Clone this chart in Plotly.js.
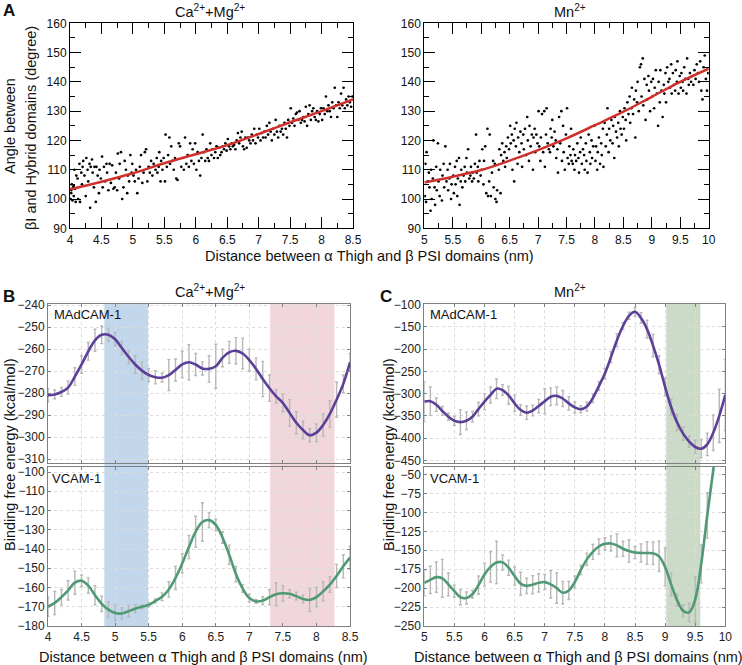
<!DOCTYPE html>
<html><head><meta charset="utf-8">
<script src="https://cdn.plot.ly/plotly-3.0.1.min.js"></script>
<style>html,body{margin:0;padding:0;background:#fff}#chart{width:742px;height:665px}</style>
</head><body><div id="chart"></div>
<script>
// ---------- Panel A data ----------
const caMgPoints = [[4.01,100],[4.02,103],[4.03,105],[4.04,99.5],[4.05,104],[4.06,101],[4.07,110],[4.08,103.5],[4.09,99],[4.10,108],[4.02,102],[4.06,104.5],
[4.12,107],[4.13,100],[4.15,112],[4.16,99],[4.18,109],[4.19,105],[4.20,111],
[4.21,113],[4.23,108],[4.25,101],[4.26,114],[4.28,110],[4.29,106],
[4.31,112],[4.32,97],[4.33,111],[4.35,113.5],[4.36,109],[4.38,104],[4.39,111],
[4.41,99],[4.42,111],[4.44,108],[4.46,102],[4.47,110],[4.49,107],
[4.51,114.5],[4.52,104],[4.54,111],[4.56,106],[4.58,112],[4.59,109],
[4.61,103],[4.63,112],[4.65,105.5],[4.67,111.5],[4.69,103.5],
[4.71,104],[4.73,109],[4.75,103],[4.76,115.5],[4.78,107],[4.79,112],
[4.81,116],[4.83,100],[4.85,104],[4.87,113],[4.89,110],
[4.91,102],[4.92,108],[4.94,106],[4.96,115],[4.98,109],[4.99,112],
[5.01,108],[5.03,106],[5.05,110],[5.07,102],[5.09,107],
[5.11,111],[5.13,115],[5.15,105.5],[5.17,109],[5.19,116],
[5.21,117],[5.23,106],[5.25,111],[5.27,109],[5.29,113],
[5.31,108],[5.33,112],[5.36,110],[5.38,114],[5.39,109],
[5.41,111],[5.42,116],[5.44,106],[5.45,113],[5.47,110],[5.49,114],
[5.51,106],[5.52,122],[5.54,111],[5.56,115],[5.58,121],[5.59,112],
[5.61,118],[5.63,113],[5.65,110],[5.67,114],[5.69,107],
[5.71,106.5],[5.73,119],[5.75,118],[5.77,111],[5.79,114],
[5.81,110],[5.83,121],[5.85,112],[5.87,115],[5.89,111],
[5.91,119],[5.93,113],[5.95,117],[5.97,112],[5.99,119],
[6.01,110],[6.03,116],[6.05,113],[6.07,108],[6.09,114],
[6.11,122],[6.13,116],[6.15,113],[6.17,117],[6.19,114],
[6.21,113],[6.23,119],[6.25,115],[6.27,117],[6.29,114],
[6.31,116],[6.33,118],[6.35,114],[6.37,117.5],[6.39,115],
[6.41,116],[6.43,118],[6.45,117],[6.47,119],[6.49,116.5],
[6.51,120.5],[6.53,118],[6.55,117],[6.57,119],[6.59,118],
[6.61,118.5],[6.63,117],[6.65,120],[6.67,122.5],[6.69,119],
[6.71,121],[6.73,123],[6.75,118],[6.77,117],[6.79,121],
[6.81,117.5],[6.83,121],[6.85,120],[6.87,119],[6.89,122],
[6.91,120],[6.93,124],[6.95,119],[6.97,122],[6.99,121],
[7.01,124],[7.03,120],[7.05,122.5],[7.07,121],[7.09,123],
[7.11,121],[7.13,125],[7.15,122],[7.17,126],[7.19,123],
[7.21,120],[7.23,124],[7.25,122],[7.27,127],[7.29,123],
[7.31,121],[7.33,125],[7.35,123],[7.37,124],[7.39,122],
[7.41,126],[7.43,124],[7.45,121],[7.47,127],[7.49,125],
[7.51,131],[7.53,126],[7.55,127.5],[7.57,125],[7.59,129],
[7.61,129.5],[7.63,127],[7.65,130],[7.67,126],[7.69,127],
[7.71,128],[7.73,126.5],[7.75,131.5],[7.77,125],[7.79,129],
[7.81,132],[7.83,127],[7.85,130],[7.87,131],[7.89,128],
[7.91,127],[7.93,130],[7.95,126.5],[7.97,129],[7.99,131],
[8.01,127],[8.03,131],[8.05,129],[8.07,135],[8.09,130],
[8.11,132],[8.13,130],[8.15,128],[8.17,133],[8.19,131],
[8.21,138],[8.23,132],[8.25,128],[8.27,133],[8.29,131],
[8.31,136],[8.33,132],[8.35,138],[8.37,131],[8.39,134],
[8.41,132],[8.43,135],[8.45,133],[8.47,131.5],[8.49,135]];

const mnPoints = [[5.01,101],[5.02,112],[5.03,99],[5.04,116],[5.06,106],[5.08,109],[5.09,104],
[5.11,96],[5.12,110],[5.13,100],[5.15,107],[5.16,120],[5.18,104],[5.19,98],
[5.21,111],[5.22,103],[5.24,119],[5.25,106],[5.27,101],[5.28,110],
[5.31,99.5],[5.32,108],[5.34,112],[5.35,104],[5.37,118],[5.39,106],
[5.41,110],[5.42,103],[5.44,107],[5.45,112],[5.47,100],[5.48,105],
[5.51,108],[5.52,102],[5.54,111],[5.55,105],[5.57,113],[5.58,101],[5.59,107],
[5.61,114],[5.62,98],[5.64,106],[5.65,110],[5.67,104],[5.69,108],
[5.71,111],[5.72,106],[5.74,114],[5.75,109],[5.77,117],[5.79,107],
[5.81,108],[5.82,111],[5.84,106],[5.85,109],[5.87,107],[5.89,112],
[5.91,122],[5.92,109],[5.94,111],[5.95,106],[5.97,113],[5.99,108],
[6.01,110],[6.02,117],[6.04,105],[6.05,113],[6.07,118],[6.09,102],
[6.11,124],[6.12,101],[6.14,106],[6.15,122],[6.17,101],[6.19,109],
[6.21,113],[6.22,104],[6.24,112],[6.25,100],[6.27,99],[6.28,103],
[6.31,110],[6.32,117],[6.34,102],[6.35,115],[6.37,119],[6.39,113],
[6.41,116],[6.42,111],[6.44,118],[6.45,114],[6.47,121],[6.49,117],
[6.51,125],[6.52,119],[6.54,122],[6.55,110],[6.57,120],[6.58,106],[6.59,124],
[6.61,118],[6.62,126],[6.64,112],[6.65,121],[6.67,116],[6.69,123],
[6.71,119],[6.72,111],[6.74,122],[6.75,117],[6.77,124],[6.79,115],
[6.81,128],[6.82,120],[6.84,113],[6.85,125],[6.87,118],[6.89,122],
[6.91,110],[6.92,121],[6.94,124],[6.95,116],[6.97,122],[6.99,119],
[7.01,130],[7.02,118],[7.04,113],[7.05,121],[7.07,129],[7.09,116],
[7.11,130],[7.12,111],[7.14,122],[7.15,131],[7.17,119],[7.19,117],
[7.21,116],[7.22,124],[7.24,121],[7.25,127],[7.27,118],[7.29,123],
[7.31,120],[7.32,114],[7.34,117],[7.35,109],[7.37,128],[7.39,119],
[7.41,130],[7.42,113],[7.44,125],[7.45,116],[7.47,110],[7.49,122],
[7.51,131],[7.52,114],[7.54,112],[7.55,118],[7.57,115],[7.58,124],[7.59,113],
[7.61,112],[7.62,117],[7.64,110],[7.65,115],[7.67,113],[7.69,119],
[7.71,114],[7.72,109],[7.74,116],[7.75,121],[7.77,112],[7.79,117],
[7.81,115],[7.82,110],[7.84,119],[7.85,113],[7.87,109],[7.89,122],
[7.91,116],[7.92,112],[7.94,120],[7.95,114],[7.97,118],[7.99,125],
[8.01,113],[8.02,118],[8.04,110],[8.05,116],[8.07,121],[8.09,112],
[8.11,119],[8.12,115],[8.14,124],[8.15,111],[8.17,126],[8.19,118],
[8.21,122],[8.22,131],[8.24,116],[8.25,124],[8.27,120],[8.29,127],
[8.31,119],[8.32,125],[8.34,114],[8.35,128],[8.37,123],[8.39,121],
[8.41,126],[8.42,118],[8.44,130],[8.45,124],[8.47,122],[8.49,128],
[8.51,124],[8.52,131],[8.54,127],[8.55,120],[8.57,133],[8.59,129],
[8.61,135],[8.62,126],[8.64,131],[8.65,138],[8.67,129],[8.69,134],
[8.71,121],[8.72,137],[8.74,133],[8.75,140],[8.77,130],[8.79,145],
[8.81,146],[8.82,135],[8.84,148],[8.85,132],[8.87,141],[8.89,127],
[8.91,139],[8.92,134],[8.94,142],[8.95,137],[8.97,130],[8.99,140],
[9.01,135],[9.02,141],[9.04,131],[9.05,138],[9.07,144],[9.09,136],
[9.11,125],[9.12,140],[9.14,133],[9.15,144],[9.17,137],[9.19,128],
[9.21,139],[9.22,136],[9.24,143],[9.25,133],[9.27,145],[9.29,140],
[9.31,141],[9.32,138],[9.34,146],[9.35,136],[9.37,143],[9.39,139],
[9.41,137],[9.42,144],[9.44,140],[9.45,147],[9.47,136],[9.49,142],
[9.51,138],[9.52,143],[9.54,140],[9.55,137],[9.57,145],[9.59,141],
[9.61,136],[9.62,148],[9.64,141],[9.65,139],[9.67,143],[9.69,140],
[9.71,142],[9.73,139],[9.75,144],[9.77,141],[9.79,146],
[9.81,143],[9.83,140],[9.85,147],[9.87,137],[9.89,134],
[9.91,145],[9.93,149],[9.95,141],[9.97,137],[9.99,143]];

const caMgFitX = [4,4.5,5,5.5,6,6.5,7,7.5,8,8.5];
const caMgFitY = [103.3,105.9,108.8,112.2,115.3,118.4,122.2,126.2,130.0,134.0];
const mnFitX = [5,5.5,6,6.5,7,7.5,8,8.5,9,9.5,10];
const mnFitY = [105.6,107.6,109.9,113.1,116.7,120.7,125.2,129.8,134.9,140.0,144.5];

// ---------- Panel B data (Ca2+ + Mg2+) ----------
const distB = [4.0,4.1,4.2,4.3,4.4,4.5,4.6,4.7,4.8,4.9,5.0,5.1,5.2,5.3,5.4,5.5,5.6,5.7,5.8,5.9,6.0,6.1,6.2,6.3,6.4,6.5,6.6,6.7,6.8,6.9,7.0,7.1,7.2,7.3,7.4,7.5,7.6,7.7,7.8,7.9,8.0,8.1,8.2,8.3,8.4,8.5];
const madcamB = [-281,-280.6,-279.5,-277.5,-272.5,-267,-261,-256,-253.5,-253.5,-255.5,-259.5,-263.5,-267,-269.8,-271.8,-272.8,-273,-271.8,-269.5,-267,-266,-267,-268.8,-269,-267.8,-264,-261.5,-260.8,-262,-265,-269,-273.6,-277.8,-281.5,-284.5,-289,-293.5,-296.8,-299.2,-298,-294.5,-289.5,-283,-275.8,-266];
const madcamBErr = [3,2,2,3,4,4,4,5,4,3,3,3,3,4,4,3,3,2,7,5,6,8,5,3,6,10,4,5,6,7,5,5,8,6,3,4,6,5,4,3,4,5,6,8,4,4];
const vcamB = [-170,-168,-165,-161.5,-157.5,-156.5,-159,-164,-168.5,-171.5,-173.2,-173.5,-172.3,-171,-170,-169,-167,-164.8,-161,-155,-147.5,-139,-131,-126,-125,-127.5,-134,-143,-153,-160.5,-165.5,-167.2,-166.8,-165,-163.5,-163,-163.3,-164.5,-166,-166.5,-165,-162,-158.5,-154,-149,-144.5];
const vcamBErr = [5,6,4,5,6,3,4,5,4,4,4,3,3,2,1,1,1,2,4,6,5,6,8,10,4,3,3,5,4,2,2,1,2,4,6,4,2,2,2,6,5,5,4,6,6,6];
const bandsB = [[4.84,5.49,'rgba(170,199,228,0.72)'],[7.31,8.27,'rgba(236,200,207,0.72)']];

// ---------- Panel C data (Mn2+) ----------
const distC = [5.0,5.1,5.2,5.3,5.4,5.5,5.6,5.7,5.8,5.9,6.0,6.1,6.2,6.3,6.4,6.5,6.6,6.7,6.8,6.9,7.0,7.1,7.2,7.3,7.4,7.5,7.6,7.7,7.8,7.9,8.0,8.1,8.2,8.3,8.4,8.5,8.6,8.7,8.8,8.9,9.0,9.1,9.2,9.3,9.4,9.5,9.6,9.7,9.8,9.9,10.0];
const madcamC = [-318,-317,-325,-339,-352,-361,-364,-361,-352,-335,-318,-303,-289,-292,-304,-322,-337,-343,-338,-328,-317,-307,-305,-311,-322,-331,-335,-329,-310,-283,-255,-218,-180,-148,-125,-116,-130,-155,-192,-235,-285,-330,-365,-390,-408,-420,-424,-414,-388,-350,-303];
const madcamCErr = [45,32,15,10,8,10,28,20,12,15,18,18,22,12,20,18,12,15,12,15,28,20,20,18,15,12,8,10,10,10,12,12,15,8,8,10,12,20,25,20,20,18,18,15,12,15,20,25,40,60,80];
const vcamC = [-193,-189,-185.5,-187,-195,-204,-212,-213,-208,-196,-182,-172,-166,-166,-173,-184,-194,-197,-195.5,-193,-192,-195,-200,-206,-203,-192,-176,-162,-152,-145,-141.5,-141,-143.5,-148,-151,-153,-153.5,-153.5,-154,-158,-172,-195,-216,-230,-232,-215,-168,-104,-44,18,80];
const vcamCErr = [17,18,20,25,15,8,10,8,5,12,15,20,28,10,10,12,15,10,12,12,10,18,20,15,12,8,6,8,10,10,8,10,15,10,15,8,12,15,15,20,25,15,8,8,12,30,25,30,0,0,0];
const bandsC = [[9.02,9.585,'rgba(190,208,184,0.78)']];

// ---------- styling ----------
const FONT = 'Liberation Sans, Arial, Helvetica, sans-serif';
const purple = '#5b3f98', green = '#4f9a74', errGray = '#b8b8b8';

const traces = [];
traces.push({x: caMgPoints.map(p=>p[0]), y: caMgPoints.map(p=>p[1]), xaxis:'x', yaxis:'y', mode:'markers', marker:{color:'#000', size:2.7}, hoverinfo:'skip'});
traces.push({x: caMgFitX, y: caMgFitY, xaxis:'x', yaxis:'y', mode:'lines', line:{color:'#d0302c', width:2.5, shape:'spline'}});
traces.push({x: mnPoints.map(p=>p[0]), y: mnPoints.map(p=>p[1]), xaxis:'x2', yaxis:'y2', mode:'markers', marker:{color:'#000', size:2.7}, hoverinfo:'skip'});
traces.push({x: mnFitX, y: mnFitY, xaxis:'x2', yaxis:'y2', mode:'lines', line:{color:'#d0302c', width:2.5, shape:'spline'}});

function energyTraces(xs, ys, errs, xa, ya, col) {
  traces.push({x: xs, y: ys, xaxis: xa, yaxis: ya, mode:'markers', marker:{size:1, color:'rgba(0,0,0,0)'},
    error_y:{type:'data', array: errs, visible:true, color: errGray, thickness:1.4, width:1.5}});
  traces.push({x: xs, y: ys, xaxis: xa, yaxis: ya, mode:'lines', line:{color: col, width:2.6, shape:'spline', smoothing:1}});
}
energyTraces(distB, madcamB, madcamBErr, 'x3', 'y3', purple);
energyTraces(distB, vcamB, vcamBErr, 'x4', 'y4', green);
energyTraces(distC, madcamC, madcamCErr, 'x5', 'y5', purple);
energyTraces(distC, vcamC, vcamCErr, 'x6', 'y6', green);

const W = 742, H = 665;
const px = v => v / W, py = v => 1 - v / H;

function topAxisX(range, dom, anchor) {
  return {domain: dom, anchor: anchor, range: range, dtick: 0.5, tick0: 0, ticks:'inside', ticklen:11, tickwidth:1, tickcolor:'#000',
    showline:true, linecolor:'#000', linewidth:1, mirror:'ticks', showgrid:false, zeroline:false,
    minor:{ticks:'inside', ticklen:5, dtick:0.25, tick0:0, tickcolor:'#000', showgrid:false},
    tickfont:{size:12, color:'#111', family:FONT}};
}
function topAxisY(dom, anchor) {
  return {domain: dom, anchor: anchor, range:[90,160], dtick:10, ticks:'inside', ticklen:11, tickwidth:1, tickcolor:'#000',
    showline:true, linecolor:'#000', linewidth:1, mirror:'ticks', showgrid:false, zeroline:false,
    minor:{ticks:'inside', ticklen:5, dtick:5, tickcolor:'#000', showgrid:false},
    tickfont:{size:12, color:'#111', family:FONT}};
}
function botAxis(opts) {
  return Object.assign({ticks:'inside', ticklen:3, tickcolor:'#808080', showline:true, linecolor:'#808080', linewidth:1, mirror:'ticks',
    showgrid:true, gridcolor:'#dcdcdc', griddash:'dot', gridwidth:1, zeroline:false, tickfont:{size:12, color:'#222', family:FONT}}, opts);
}

const domTopY = [py(228.3), py(23.3)];
const domB = [px(48), px(350)], domC = [px(424.3), px(725.3)];
const domUpper = [py(463), py(304)], domLower = [py(626), py(467)];

const shapes = [];
bandsB.forEach(b => shapes.push({type:'rect', xref:'x3', yref:'paper', x0:b[0], x1:b[1], y0:domLower[0], y1:domUpper[1], fillcolor:b[2], line:{width:0}, layer:'below'}));
bandsC.forEach(b => shapes.push({type:'rect', xref:'x5', yref:'paper', x0:b[0], x1:b[1], y0:domLower[0], y1:domUpper[1], fillcolor:b[2], line:{width:0}, layer:'below'}));

function ann(text, x, y, size, extra) {
  return Object.assign({text: text, xref:'paper', yref:'paper', x: px(x), y: py(y), showarrow:false, xanchor:'center', yanchor:'middle',
    font:{size: size, color:'#111', family: FONT}}, extra || {});
}
const xTitle = 'Distance between α Thigh and β PSI domains (nm)';
const annotations = [
  ann('<b>A</b>', 1, 11, 17, {xanchor:'left'}),
  ann('<b>B</b>', 1, 296, 17, {xanchor:'left'}),
  ann('<b>C</b>', 378, 296, 17, {xanchor:'left'}),
  ann('Ca<sup>2+</sup>+Mg<sup>2+</sup>', 210, 11, 14.5),
  ann('Mn<sup>2+</sup>', 570, 11, 14.5),
  ann('Ca<sup>2+</sup>+Mg<sup>2+</sup>', 210, 291, 14.5),
  ann('Mn<sup>2+</sup>', 570, 291, 14.5),
  ann('Angle between', 10, 126, 14.5, {textangle:-90}),
  ann('βI and Hybrid domains (degree)', 31, 128, 14.5, {textangle:-90}),
  ann(xTitle, 369, 256, 14.5),
  ann('Binding free energy (kcal/mol)', 10, 455, 14.5, {textangle:-90}),
  ann('Binding free energy (kcal/mol)', 389, 455, 14.5, {textangle:-90}),
  ann(xTitle, 203, 657, 14.5),
  ann(xTitle, 578, 657, 14.5),
  ann('MAdCAM-1', 52, 315, 13, {xanchor:'left'}),
  ann('VCAM-1', 50, 478, 13, {xanchor:'left'}),
  ann('MAdCAM-1', 428, 315, 13, {xanchor:'left'}),
  ann('VCAM-1', 428, 478, 13, {xanchor:'left'})
];

const layout = {
  width: W, height: H, margin:{l:0, r:0, t:0, b:0}, showlegend:false,
  paper_bgcolor:'#fff', plot_bgcolor:'rgba(0,0,0,0)', font:{family: FONT, color:'#111'},
  xaxis: topAxisX([4,8.5], [px(70), px(353)], 'y'),
  yaxis: topAxisY(domTopY, 'x'),
  xaxis2: topAxisX([5,10], [px(424.3), px(708.7)], 'y2'),
  yaxis2: topAxisY(domTopY, 'x2'),
  xaxis3: botAxis({domain: domB, anchor:'y3', range:[4,8.5], dtick:0.5, tick0:0, showticklabels:false}),
  yaxis3: botAxis({domain: domUpper, anchor:'x3', range:[-311.8,-239.5], dtick:10}),
  xaxis4: botAxis({domain: domB, anchor:'y4', range:[4,8.5], dtick:0.5, tick0:0}),
  yaxis4: botAxis({domain: domLower, anchor:'x4', range:[-180,-97.4], dtick:10}),
  xaxis5: botAxis({domain: domC, anchor:'y5', range:[5,10], dtick:0.5, tick0:0, showticklabels:false}),
  yaxis5: botAxis({domain: domUpper, anchor:'x5', range:[-456,-98.5], dtick:50}),
  xaxis6: botAxis({domain: domC, anchor:'y6', range:[5,10], dtick:0.5, tick0:0}),
  yaxis6: botAxis({domain: domLower, anchor:'x6', range:[-250,-40], dtick:25}),
  shapes: shapes, annotations: annotations
};

Plotly.newPlot('chart', traces, layout, {displayModeBar:false, staticPlot:true});
</script>
</body></html>
